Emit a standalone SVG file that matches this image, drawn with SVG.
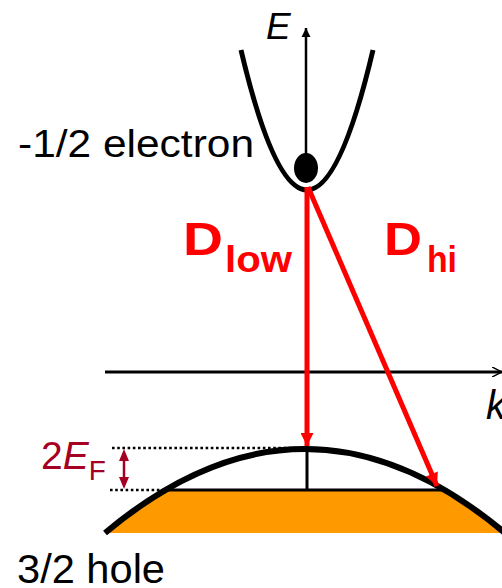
<svg xmlns="http://www.w3.org/2000/svg" width="502" height="588" viewBox="0 0 502 588">
<style>
.lbl{font-family:"Liberation Sans",Arial,sans-serif;fill:#000}
.it{font-style:italic}
.red{font-family:"Liberation Sans",Arial,sans-serif;font-weight:bold;fill:#FF0000}
.dk{font-family:"Liberation Sans",Arial,sans-serif;fill:#A50021}
.blk{stroke:#000;fill:none}
.dot{stroke:#000;stroke-width:2.6;stroke-dasharray:2.6 2.6;fill:none}
.ra{stroke:#FF0000;stroke-width:5;fill:none}
</style>
<defs>
<marker id="ah" viewBox="0 0 10 10" refX="10" refY="5" markerWidth="9" markerHeight="11" markerUnits="userSpaceOnUse" orient="auto">
<path d="M0,0 L10,5 L0,10 Z" fill="#000"/>
</marker>
<marker id="ahk" viewBox="0 0 10 10" refX="10" refY="5" markerWidth="10" markerHeight="10" markerUnits="userSpaceOnUse" orient="auto">
<path d="M0,0 L10,5 L0,10" fill="none" stroke="#000" stroke-width="1.5"/>
</marker>
<marker id="rah" viewBox="0 0 10 10" refX="10" refY="5" markerWidth="14" markerHeight="13" markerUnits="userSpaceOnUse" orient="auto">
<path d="M0,0 L10,5 L0,10 Z" fill="#FF0000"/>
</marker>
<clipPath id="band"><rect x="0" y="490" width="502" height="43"/></clipPath>
</defs>

<g id="hole-band">
<path d="M105,533 Q305,365 505,533 Z" fill="#FF9900" clip-path="url(#band)"/>
<line x1="165" y1="490" x2="443" y2="490" class="blk" stroke-width="3"/>
<line x1="307" y1="449" x2="307" y2="490" class="blk" stroke-width="3"/>
<path d="M105,533 Q305,365 505,533" class="blk" stroke-width="6"/>
</g>

<g id="axes">
<line x1="306" y1="168" x2="306" y2="28" class="blk" stroke-width="2.5" marker-end="url(#ah)"/>
<line x1="105" y1="372" x2="502" y2="372" class="blk" stroke-width="3" marker-end="url(#ahk)"/>
<text x="266" y="39" class="lbl it" font-size="37">E</text>
<text x="486" y="419" class="lbl it" font-size="40">k</text>
</g>

<g id="electron-band">
<path d="M241,50 Q307,330 373,50" class="blk" stroke-width="5"/>
<ellipse cx="306" cy="168" rx="12" ry="15" fill="#000"/>
<text x="18" y="157" class="lbl" font-size="38" textLength="236" lengthAdjust="spacingAndGlyphs">-1/2 electron</text>
</g>

<g id="fermi">
<line x1="112" y1="448" x2="305" y2="448" class="dot"/>
<line x1="110" y1="490" x2="165" y2="490" class="dot"/>
<line x1="124" y1="456" x2="124" y2="482" stroke="#A50021" stroke-width="2.5"/>
<path d="M124,449 L129,461 L119,461 Z M124,489 L129,477 L119,477 Z" fill="#A50021"/>
<text x="41" y="469" class="dk" font-size="39">2<tspan class="it">E</tspan><tspan font-size="28" dy="11">F</tspan></text>
</g>

<g id="connectors">
<line x1="307" y1="187" x2="307" y2="446" class="ra" marker-end="url(#rah)"/>
<line x1="308" y1="187" x2="437" y2="486" class="ra" marker-end="url(#rah)"/>
</g>

<g id="labels">
<text x="183" y="255" class="red" font-size="46" textLength="40" lengthAdjust="spacingAndGlyphs">D</text>
<text x="225" y="272" class="red" font-size="37" textLength="67" lengthAdjust="spacingAndGlyphs">low</text>
<text x="384" y="255" class="red" font-size="46" textLength="38" lengthAdjust="spacingAndGlyphs">D</text>
<text x="427" y="272" class="red" font-size="37" textLength="30" lengthAdjust="spacingAndGlyphs">hi</text>
<text x="17" y="583" class="lbl" font-size="40" textLength="148" lengthAdjust="spacingAndGlyphs">3/2 hole</text>
</g>
</svg>
